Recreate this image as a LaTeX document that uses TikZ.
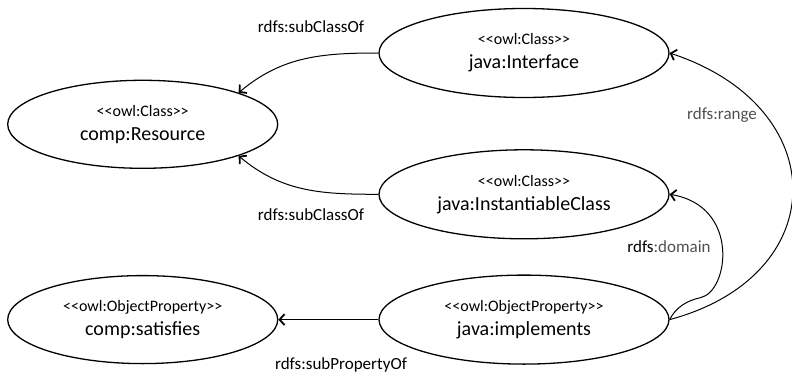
\documentclass[tikz,border=0pt]{standalone}
\usepackage{fontspec}
\setmainfont{Carlito}
\usetikzlibrary{positioning, arrows.meta, shapes.geometric}

\definecolor{labelgray}{RGB}{80,80,80}
\newcommand{\stereo}[1]{{\fontsize{16}{19}\selectfont <{}<#1>{}>}}

\begin{document}
\begin{tikzpicture}[x=1pt,y=1pt]
        % Styles des noeuds
        \tikzstyle{classe} = [ellipse, draw=black, line width=1.3pt, inner sep=0pt, minimum width=290pt, minimum height=89pt, align=center, font=\fontsize{20}{24}\selectfont]
        \tikzstyle{petite} = [classe, minimum width=270pt, minimum height=88pt]
        \tikzstyle{lien} = [line width=1pt, -{Straight Barb[length=5pt,width=11pt,line width=1.8pt]}]
        \tikzstyle{etiquette} = [inner sep=0pt, font=\fontsize{17}{20}\selectfont]

        \useasboundingbox (0,0) rectangle (792,373);

        % Noeuds
        \node (iface) [classe] at (524,320) {\stereo{owl:Class}\\java:Interface};
        \node (inst) [classe, below=51pt of iface] {\stereo{owl:Class}\\java:InstantiableClass};
        \node (impl) [classe, below=35pt of inst] {\stereo{owl:ObjectProperty}\\java:implements};
        \node (sat) [petite, left=100pt of impl] {\stereo{owl:ObjectProperty}\\comp:satisfies};
        \node (res) [petite, above=106pt of sat] {\stereo{owl:Class}\\comp:Resource};

        % Etiquettes
        \node (lblSubTop) [etiquette] at (311,346) {rdfs:subClassOf};
        \node (lblSubBot) [etiquette] at (311,158) {rdfs:subClassOf};
        \node (lblRange) [etiquette, text=labelgray] at (722,258) {rdfs:range};
        \node (lblDomain) [etiquette] at (669,126) {rdfs\textcolor{labelgray}{:domain}};
        \node (lblSubProp) [etiquette] at (341,8) {rdfs:subPropertyOf};

        % Fleches
        \draw [lien] (iface.west) to[out=180, in=40] (res.north east);
        \draw [lien] (inst.west) to[out=180, in=-40] (res.south east);
        \draw [lien] (impl.west) -- (sat.east);
        \draw [lien] (impl.east) .. controls +(6,12) and +(-14,-3) .. ++(31,22) .. controls +(28,6) and +(71,-12) .. (inst.east);
        \draw [lien] (impl.east) .. controls +(164,44) and +(164,-54) .. (iface.east);
\end{tikzpicture}
\end{document}
